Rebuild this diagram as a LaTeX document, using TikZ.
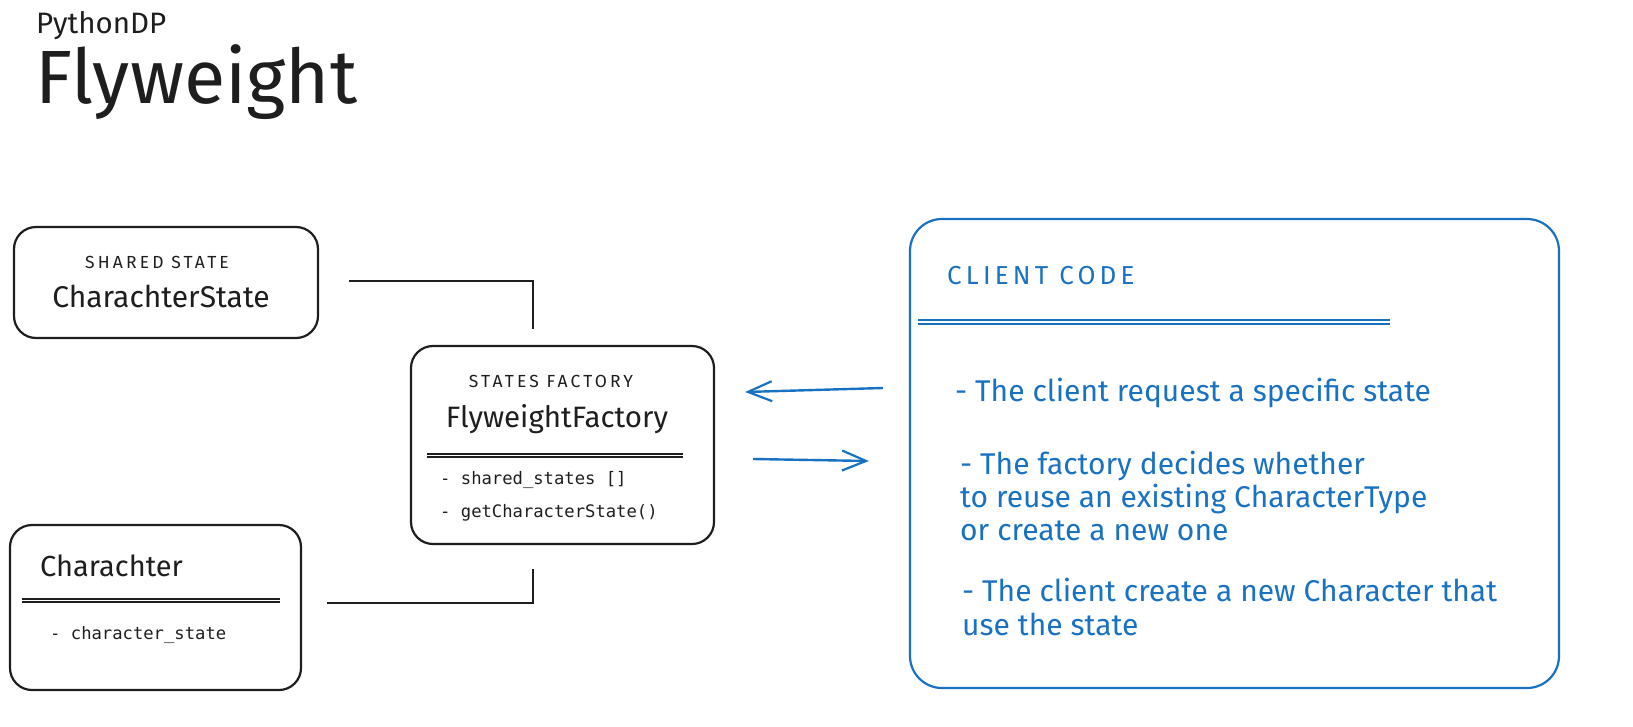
\documentclass[tikz,border=0pt]{standalone}
\usepackage{fontspec}
\setmainfont{Fira Sans}
\newfontfamily\monofont{DejaVu Sans Mono}
\newfontfamily\spacedfont[LetterSpace=18]{Fira Sans}
\newfontfamily\headfont[LetterSpace=16]{Fira Sans}
\usetikzlibrary{arrows.meta}
\definecolor{ink}{HTML}{1E1E1E}
\definecolor{exblue}{HTML}{1971C2}
\tikzset{
  box/.style={draw=ink, line width=2.2pt, rounded corners=22pt, inner sep=0pt},
  bluebox/.style={draw=exblue, line width=2.2pt, rounded corners=32pt, inner sep=0pt},
  link/.style={draw=ink, line width=2.4pt},
  flow/.style={draw=exblue, line width=2.4pt, -{Straight Barb[length=24pt,width=20pt,line width=2.2pt]}},
  divider/.style={draw=ink, line width=1.4pt},
  bdivider/.style={draw=exblue, line width=1.4pt},
  lbl/.style={inner sep=0pt, text=ink},
  tag/.style={inner sep=0pt, text=ink, anchor=base, font=\spacedfont\fontsize{17.5}{20}\selectfont},
  blbl/.style={inner sep=0pt, text=exblue, anchor=base west, font=\fontsize{30}{34}\selectfont},
  mono/.style={inner sep=0pt, text=ink, anchor=base west, font=\monofont\fontsize{17.2}{20}\selectfont},
}
\begin{document}
\begin{tikzpicture}[x=1pt,y=-1pt]
\useasboundingbox (0,0) rectangle (1633,726);

% titles
\node[lbl, anchor=base west, font=\fontsize{29.5}{34}\selectfont] (sub) at (36,33) {PythonDP};
\node[lbl, anchor=base west, font=\fontsize{75.5}{84}\selectfont] (title) at (35,103) {Flyweight};

% shared state box
\node[box, minimum width=304pt, minimum height=111pt] (shared) at (166,282.5) {};
\node[tag] (sharedtag) at (157,268) {SHARED STATE};
\node[lbl, anchor=base, font=\fontsize{30}{34}\selectfont] (sharedname) at (161,307) {CharachterState};

% factory box
\node[box, minimum width=303pt, minimum height=198pt] (factory) at (562.5,445) {};
\node[tag] (factorytag) at (551,387) {STATES FACTORY};
\node[lbl, anchor=base, font=\fontsize{29.5}{34}\selectfont] (factoryname) at (557,427) {FlyweightFactory};
\coordinate (fdl) at (427,454);
\coordinate (fdr) at (683,454);
\draw[divider] (fdl) -- (fdr);
\draw[divider] ([yshift=-3pt]fdl) -- ([yshift=-3pt]fdr);
\node[mono] (fattr1) at (440,484) {- shared\_states []};
\node[mono] (fattr2) at (440,517) {- getCharacterState()};

% character box
\node[box, minimum width=291pt, minimum height=165pt] (char) at (155.5,607.5) {};
\node[lbl, anchor=base west, font=\fontsize{29}{32}\selectfont] (charname) at (40,576) {Charachter};
\coordinate (cdl) at (22,599);
\coordinate (cdr) at (280,599);
\draw[divider] (cdl) -- (cdr);
\draw[divider] ([yshift=-3pt]cdl) -- ([yshift=-3pt]cdr);
\node[mono] (cattr) at (50,639) {- character\_state};

% client box
\node[bluebox, minimum width=649pt, minimum height=469pt] (client) at (1234.5,453.5) {};
\node[blbl, font=\headfont\fontsize{26}{30}\selectfont] (clienttag) at (947,284) {CLIENT CODE};
\coordinate (kdl) at (918,320);
\coordinate (kdr) at (1390,320);
\draw[bdivider] (kdl) -- (kdr);
\draw[bdivider] ([yshift=-4pt]kdl) -- ([yshift=-4pt]kdr);
\node[blbl] (t1) at (955,401) {- The client request a specific state};
\node[blbl] (t2) at (960,474) {- The factory decides whether};
\node[blbl] (t3) at (960,507) {to reuse an existing CharacterType};
\node[blbl] (t4) at (960,540) {or create a new one};
\node[blbl] (t5) at (962,601) {- The client create a new Character that};
\node[blbl] (t6) at (962,635) {use the state};

% connectors
\coordinate (s1) at ([xshift=30pt,yshift=1.5pt]shared.east);
\coordinate (e1) at ([xshift=-29.5pt,yshift=16pt]factory.north);
\draw[link] (s1) -| (e1);
\coordinate (s2) at ([xshift=25pt,yshift=4.5pt]char.east);
\coordinate (e2) at ([xshift=-29.5pt,yshift=-24pt]factory.south);
\draw[link] (s2) -| (e2);

% flows
\draw[flow] ([xshift=-26pt,yshift=65.5pt]client.west) -- ([xshift=30pt,yshift=53pt]factory.east);
\draw[flow] ([xshift=38pt,yshift=-14pt]factory.east) -- ([xshift=-40pt,yshift=-7.5pt]client.west);
\end{tikzpicture}
\end{document}
